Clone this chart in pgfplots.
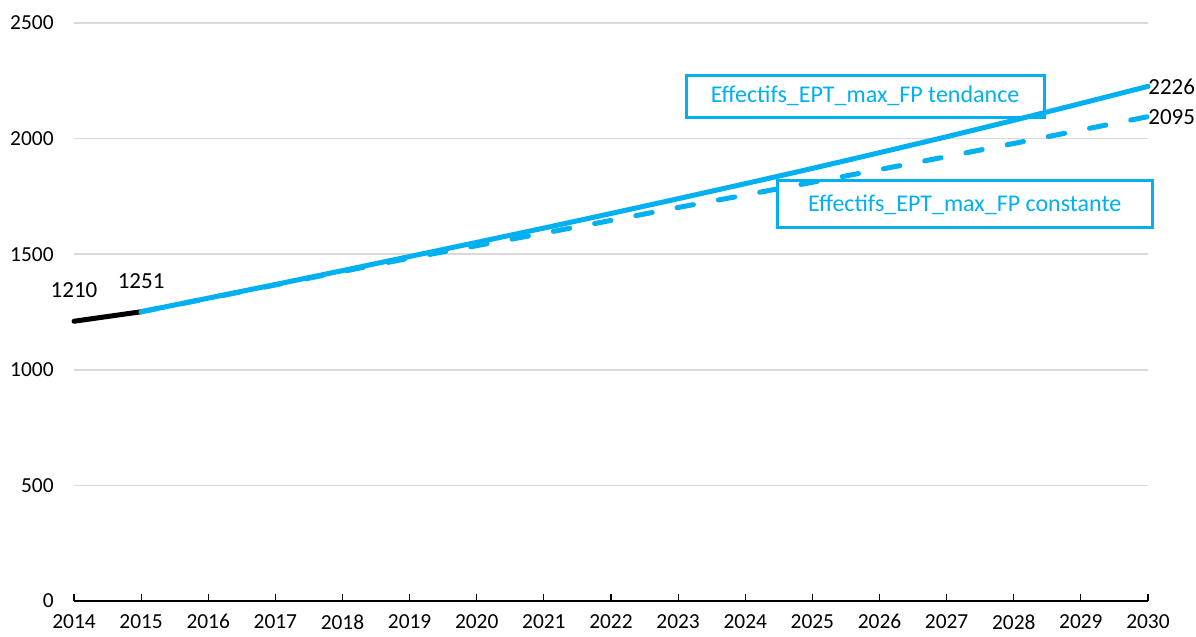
\documentclass[border=0pt]{standalone}
\usepackage{pgfplots}
\pgfplotsset{compat=1.18}
\usepackage{fontspec}
\setmainfont{Carlito}
\definecolor{cblue}{HTML}{00B0F0}
\definecolor{cgrid}{HTML}{D9D9D9}
\pgfplotstableread{
year val
2014 1210
2015 1251
}\hist
\pgfplotstableread{
year val
2015 1251
2016 1310
2017 1369
2018 1429
2019 1490
2020 1551
2021 1613
2022 1676
2023 1740
2024 1805
2025 1871
2026 1939
2027 2008
2028 2079
2029 2152
2030 2226
}\tend
\pgfplotstableread{
year val
2015 1251
2016 1309
2017 1367
2018 1425
2019 1483
2020 1537
2021 1591
2022 1646
2023 1702
2024 1756
2025 1811
2026 1866
2027 1922
2028 1979
2029 2037
2030 2095
}\const
\begin{document}
\begin{tikzpicture}
\begin{axis}[
  name=ax,
  scale only axis, width=537pt, height=289pt,
  xmin=2014, xmax=2030, ymin=0, ymax=2500,
  axis lines=left, axis line style={-},
  y axis line style={draw=none},
  x axis line style={black, line width=0.75pt},
  xtick={2014,2015,...,2030},
  ytick={0,500,...,2500},
  tick align=inside,
  major tick length=3.3pt,
  xtick style={black, line width=0.6pt},
  ytick style={draw=none},
  ymajorgrids, grid style={cgrid, line width=0.75pt},
  /pgf/number format/.cd, 1000 sep={}, assume math mode=true, /pgfplots/.cd,
  ticklabel style={font=\fontsize{10.7}{12}\selectfont, text=black},
  xticklabel style={anchor=north, inner sep=0pt, yshift=-6.5pt},
  yticklabel style={anchor=east, inner sep=0pt, xshift=-10pt},
  clip=false,
]
\addplot[black, line width=2.5pt, line cap=round] table[x=year,y=val] {\hist};
\addplot[cblue, line width=2.5pt, line cap=round, line join=round, dash pattern=on 8.3pt off 12.7pt] table[x=year,y=val] {\const};
\addplot[cblue, line width=2.5pt, line cap=round, line join=round] table[x=year,y=val] {\tend};
\node[anchor=west, inner sep=0pt, font=\fontsize{11.5}{13}\selectfont] at (axis cs:2030,2226) {2226};
\node[anchor=west, inner sep=0pt, font=\fontsize{11.5}{13}\selectfont] at (axis cs:2030,2095) {2095};
\node[anchor=south, inner sep=0pt, yshift=11.5pt, font=\fontsize{11.5}{13}\selectfont] at (axis cs:2014,1210) {1210};
\node[anchor=south, inner sep=0pt, yshift=11.5pt, font=\fontsize{11.5}{13}\selectfont] at (axis cs:2015,1251) {1251};
\node[draw=cblue, line width=1.5pt, minimum width=179pt, minimum height=21pt, inner sep=0pt, text=cblue, font=\fontsize{12}{14}\selectfont] at (axis cs:2025.785,2184) {Effectifs\_EPT\_max\_FP tendance};
\node[draw=cblue, line width=1.5pt, minimum width=187.5pt, minimum height=23.5pt, inner sep=0pt, text=cblue, font=\fontsize{12}{14}\selectfont] at (axis cs:2027.27,1715) {Effectifs\_EPT\_max\_FP constante\hspace{9pt}};
\end{axis}
\pgfresetboundingbox
\path[use as bounding box] ([shift={(-37pt,-18pt)}]ax.south west) rectangle ([shift={(24pt,11.5pt)}]ax.north east);
\end{tikzpicture}
\end{document}
